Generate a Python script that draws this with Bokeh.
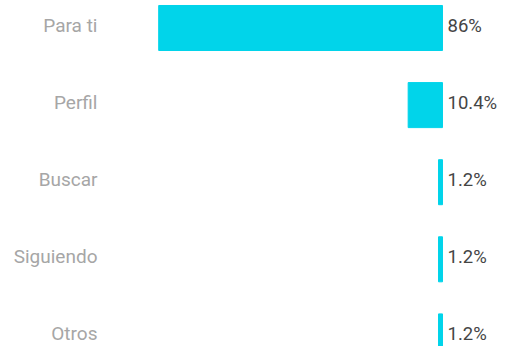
from bokeh.plotting import figure
from bokeh.models import Range1d, ColumnDataSource
from bokeh.core.properties import value
from bokeh.embed import file_html
from bokeh.resources import INLINE

categories = ["Para ti", "Perfil", "Buscar", "Siguiendo", "Otros"]
shares = [86, 10.4, 1.2, 1.2, 1.2]
value_labels = ["86%", "10.4%", "1.2%", "1.2%", "1.2%"]

positions = list(range(len(categories)))
LABEL_X = 104.55

src = ColumnDataSource(dict(
    y=positions,
    share=shares,
    zero=[0] * len(shares),
    cat=categories,
    lab=value_labels,
    lx=[LABEL_X] * len(shares),
))

p = figure(width=497, height=346, output_backend="svg", toolbar_location=None,
           x_range=Range1d(133.94, -16.67), y_range=Range1d(4.131, -0.3567),
           min_border=0, min_border_left=0, min_border_right=0,
           min_border_top=0, min_border_bottom=0)
p.axis.visible = False
p.grid.visible = False
p.outline_line_color = None
p.background_fill_color = "white"
p.border_fill_color = "white"

p.hbar(y="y", left="zero", right="share", height=0.584, source=src,
       fill_color="#01D4EA", line_color="#01D4EA", line_width=1)

p.text(x="lx", y="y", text="cat", source=src, text_align="right", y_offset=-2.5,
       text_baseline="middle", text_font=value("Roboto"),
       text_font_size="19px", text_color="#a6a6a6")

p.text(x="zero", y="y", text="lab", source=src, x_offset=5, y_offset=-2,
       text_align="left", text_baseline="middle", text_font=value("Roboto"),
       text_font_size="18.5px", text_color="#454545")

open("out.html", "w").write(file_html(p, INLINE))
